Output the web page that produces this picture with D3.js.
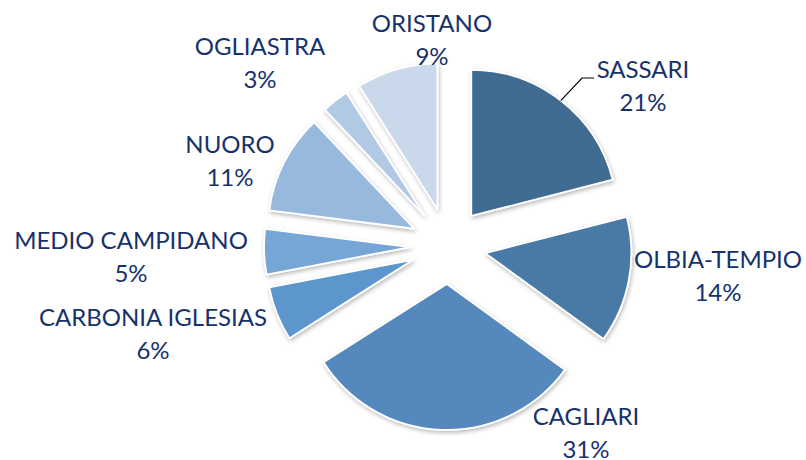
<!DOCTYPE html>
<html>
<head>
<meta charset="utf-8">
<script src="https://cdn.jsdelivr.net/npm/d3@7"></script>
<style>
  html, body { margin: 0; padding: 0; background: #fff; }
  svg { display: block; }
  text { font-family: Lato, "Open Sans", sans-serif; }
</style>
</head>
<body>
<svg id="chart" width="806" height="460"></svg>
<script>
// ---- data ----
const categories = ["SASSARI", "OLBIA-TEMPIO", "CAGLIARI", "CARBONIA IGLESIAS",
                    "MEDIO CAMPIDANO", "NUORO", "OGLIASTRA", "ORISTANO"];
const values = [21, 14, 31, 6, 5, 11, 3, 9];
const percentLabels = ["21%", "14%", "31%", "6%", "5%", "11%", "3%", "9%"];

// ---- layout / style ----
const colors = ["#416c91", "#4a7aa6", "#5589bd", "#5c96cc",
                "#76a6d6", "#98b9de", "#b2c9e6", "#cad8eb"];
const labelPos = [[643, 78], [718, 268], [586, 425], [153, 326],
                  [131, 249], [230, 153], [260, 55], [432, 32]];
const cx = 448, cy = 246, radius = 146, explode = 38;
const lineGap = 33;
const textColor = "#17326b";

const svg = d3.select("#chart");
const defs = svg.append("defs");
const f = defs.append("filter").attr("id", "sh")
  .attr("x", "-20%").attr("y", "-20%").attr("width", "140%").attr("height", "140%");
f.append("feDropShadow").attr("dx", 1).attr("dy", 2).attr("stdDeviation", 2)
  .attr("flood-color", "#000").attr("flood-opacity", 0.28);

const pie = d3.pie().sort(null).value(d => d)(values);
const arc = d3.arc().innerRadius(0).outerRadius(radius);

const g = svg.append("g").attr("transform", `translate(${cx},${cy})`);

const mid = d => (d.startAngle + d.endAngle) / 2;
const off = d => [Math.sin(mid(d)) * explode, -Math.cos(mid(d)) * explode];

g.selectAll("path.slice").data(pie).join("path")
  .attr("class", "slice")
  .attr("transform", d => `translate(${off(d)[0]},${off(d)[1]})`)
  .attr("d", arc)
  .attr("fill", (d, i) => colors[i])
  .attr("stroke", "#fff")
  .attr("stroke-width", 1.8)
  .attr("stroke-linejoin", "round")
  .attr("filter", "url(#sh)");

// leader line for SASSARI
{
  const d = pie[0];
  const o = off(d);
  const a = mid(d);
  const sx = cx + o[0] + Math.sin(a) * radius;
  const sy = cy + o[1] - Math.cos(a) * radius;
  const lx = labelPos[0][0] - 49, ly = labelPos[0][1];
  svg.append("polyline")
    .attr("points", `${sx},${sy} ${lx - 12},${ly} ${lx},${ly}`)
    .attr("fill", "none").attr("stroke", "#000").attr("stroke-width", 1.2);
}

const labels = svg.selectAll("text.lbl").data(categories).join("text")
  .attr("class", "lbl")
  .attr("text-anchor", "middle")
  .attr("fill", textColor)
  .attr("font-size", 24);
labels.append("tspan")
  .attr("x", (d, i) => labelPos[i][0]).attr("y", (d, i) => labelPos[i][1])
  .text(d => d);
labels.append("tspan")
  .attr("x", (d, i) => labelPos[i][0]).attr("y", (d, i) => labelPos[i][1] + lineGap)
  .text((d, i) => percentLabels[i]);
</script>
</body>
</html>
